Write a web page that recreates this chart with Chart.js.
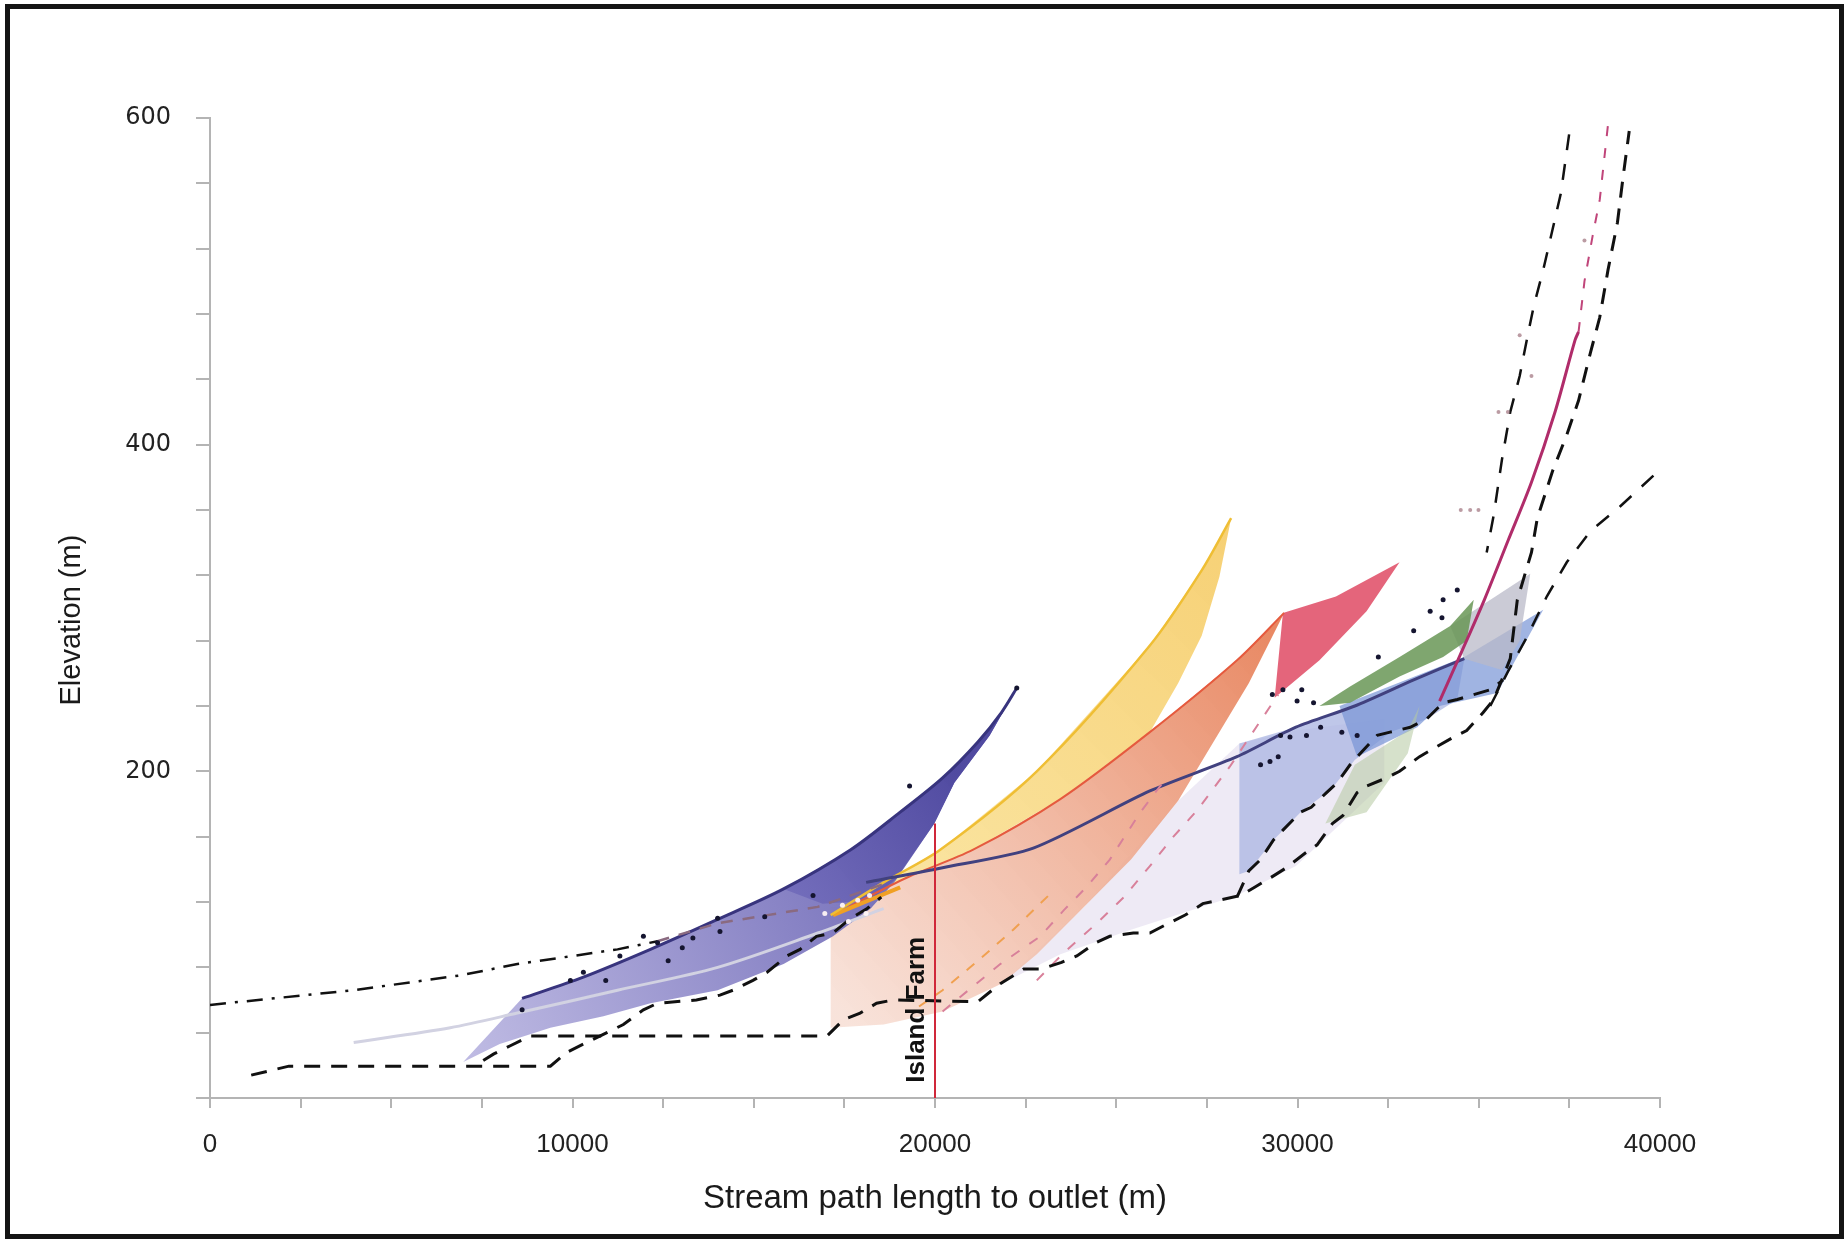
<!DOCTYPE html>
<html>
<head>
<meta charset="utf-8">
<script src="https://cdn.jsdelivr.net/npm/chart.js@4.4.1/dist/chart.umd.min.js"></script>
<style>
  html, body { margin: 0; padding: 0; background: #fff; }
  #wrap { position: relative; width: 1847px; height: 1239px; }
  #frame { position: absolute; left: 5px; top: 4px; width: 1839px; height: 1235px;
           border: 5px solid #141414; box-sizing: border-box; pointer-events: none; }
</style>
</head>
<body>
<div id="wrap">
  <canvas id="chart" width="1847" height="1239"></canvas>
  <div id="frame"></div>
</div>
<script>
// tick labels
var xLabelTicks = [0, 10000, 20000, 30000, 40000]
var yLabelTicks = [200, 400, 600]

// [stream path length (m), elevation (m)]
var dashDot     = [[0,57],[3964,66],[6888,75],[8480,82],[11242,91],[12346,96]]
var mauveDash   = [[12346,96],[14003,107],[16765,117],[18584,131]]
var grayCentre  = [[3964,34],[6628,43],[8480,52],[11242,66],[14003,80],[16765,101],[18584,116]]
var purpleTop   = [[8610,61],[10300,74],[12151,91],[13971,109],[15823,128],[17675,152],[19039,175],[20209,196],[21183,218],[21833,236],[22256,251]]
var purpleLow   = [[21508,222],[20534,193],[19981,168],[18909,133],[18227,116],[17187,99],[15823,82],[14003,66],[12151,58],[10852,50],[9390,43],[7993,33],[6985,22]]
var purpleWedge = [[15823,128],[17675,152],[19039,175],[20209,196],[21183,218],[21833,236],[22256,251],[21508,222],[20534,193],[19981,168],[18909,134],[18227,121],[16900,119]]
var orangeTop   = [[17610,117],[19234,135],[21053,152],[23458,183],[25927,224],[28331,268],[29631,297]]
var peachLow    = [[28656,254],[27681,218],[26707,182],[25407,146],[24108,117],[22808,88],[21833,70],[20209,53],[18584,45],[17122,43],[17122,117]]
var yellowTop   = [[17122,112],[18584,132],[20144,152],[22808,200],[25927,277],[27357,323],[28169,355]]
var yellowLow   = [[28169,355],[27844,319],[27357,283],[26707,254],[25927,224],[23458,183],[21053,152],[19234,135],[17610,117]]
var orangeStub  = [[17187,112],[19039,129]]
var navyLine    = [[18100,132],[20209,141],[22711,153],[25927,188],[28331,209],[29956,227],[31580,240],[33205,256],[34602,269]]
var faintArea   = [[21833,70],[23458,88],[25407,103],[28331,124],[29956,142],[32393,193],[32393,232],[29956,225],[28396,217],[26707,182],[24108,117]]
var blueLight   = [[28396,217],[29956,227],[31580,240],[33205,256],[34602,269],[34407,244],[33562,232],[32555,224],[31580,207],[30930,189],[30086,175],[29338,158],[28656,139],[28396,137]]
var blueRight   = [[31158,240],[34602,270],[36779,299],[35512,248],[33920,240],[33302,227],[31645,209]]
var grayArea    = [[34212,289],[36421,321],[36129,280],[35641,262],[34602,269]]
var greenBand   = [[30606,240],[31450,252],[32815,270],[34212,289],[34862,305],[34667,280],[34017,270],[32815,258],[31450,242]]
var paleGreen   = [[30768,168],[31580,204],[33043,225],[33367,240],[33043,211],[31905,175]]
var redTriangle = [[29371,245],[29598,297],[31060,307],[32815,328],[31905,298],[30606,268]]
var magentaLine = [[33920,243],[34504,272],[35154,305],[35804,341],[36454,377],[37104,420],[37656,464],[37753,469]]
var magentaDash = [[37753,469],[37916,500],[38143,528],[38338,550],[38566,596]]
var orangeDash  = [[19559,56],[20209,66],[21183,84],[22158,103],[23133,124]]
var pinkDashA   = [[20209,53],[21801,82],[22905,99],[23555,115],[24173,129],[24822,146],[25667,175],[26382,196]]
var pinkDashB   = [[22808,72],[23555,89],[24465,107],[25212,123],[25927,142],[26577,160],[27227,176],[28136,203],[28981,231],[29468,247]]
var lowDash     = [[1137,14],[2177,19.5],[9390,19.5],[9845,28],[10300,33],[10949,40],[11404,45],[11956,54],[12346,58],[13418,60],[14068,63],[14426,66],[14978,72],[15368,77],[15920,87],[16277,91],[16732,99],[17187,101],[17675,110],[18129,116],[18519,123]]
var mainDash    = [[7538,23],[7830,27],[8285,32],[8837,38],[17025,38],[17480,48],[17934,52],[18389,58],[18844,60],[21183,59],[21801,70],[22451,79],[22938,79],[23490,83],[23913,87],[24432,95],[24822,99],[25472,101],[25927,101],[26447,107],[26902,112],[27389,119],[27811,121],[28429,124],[28818,129],[29338,136],[29695,141],[30216,150],[30541,155],[30963,168],[31255,173],[31645,187],[31905,191],[32458,196],[32815,200],[33367,209],[33757,214],[34309,221],[34667,225],[35122,236],[35414,244],[35674,258],[35869,269],[36064,305],[36454,334],[36616,355],[37039,384],[37428,406],[37753,427],[38078,456],[38338,478],[38566,507],[38826,536],[38988,565],[39151,592]]
var sideDash    = [[28331,123],[28656,139],[28981,146],[29338,158],[29598,164],[30086,175],[30378,178],[30801,187],[31093,193],[31450,204],[31775,212],[32198,222],[32555,224],[33108,227],[33562,232],[34017,242],[34407,244],[35024,248],[35317,250],[35674,256]]
var innerDash   = [[37493,590],[37266,554],[37039,532],[36779,507],[36519,485],[36324,464],[36129,442],[35869,420],[35641,391],[35414,357],[35219,334]]
var outerDash   = [[35317,240],[35804,261],[36324,282],[36876,307],[37428,328],[38078,347],[38891,362],[39866,382]]
var islandFarm  = [[20000,0],[20000,168]]
var blackDots   = [[8610,54],[9942,72],[10300,77],[10917,72],[11307,87],[11956,99],[12346,95],[12639,84],[13029,92],[13321,98],[14003,110],[14068,102],[15303,111],[16635,124],[19299,191],[22256,251],
                   [28981,204],[29241,206],[29468,209],[29533,222],[29793,221],[30248,222],[30638,227],[31223,224],[31645,222],[29306,247],[29598,250],[30118,250],[29988,243],[30443,242],[32230,270],[33205,286],[33660,298],[33985,294],[34017,305],[34407,311]]
var whiteDots   = [[16960,113],[17447,118],[17869,121],[18194,124],[18097,113],[17610,108]]
var paleDots    = [[35544,420],[35804,420],[36129,467],[37916,525],[34504,360],[34764,360],[34992,360],[36454,442]]

function pts(a){ return a.map(function(p){ return { x: p[0], y: p[1] } }) }

function area(data, color, order){
  return { data: pts(data), showLine: true, fill: 'shape', backgroundColor: color,
           borderColor: 'rgba(0,0,0,0)', borderWidth: 0, pointRadius: 0, order: order }
}
function line(data, color, width, dash, order, tension){
  return { data: pts(data), showLine: true, fill: false, borderColor: color, borderWidth: width,
           borderDash: dash || [], borderCapStyle: 'butt', pointRadius: 0, order: order, tension: tension || 0 }
}
function dots(data, color, r, order){
  return { data: pts(data), showLine: false, pointRadius: r, pointBackgroundColor: color,
           pointBorderWidth: 0, order: order }
}

// gradient between two data points, falls back to a flat colour before layout
function grad(p0, p1, c0, c1, fallback){
  return function(ctx){
    var ch = ctx.chart, sx = ch.scales.x, sy = ch.scales.y
    if (!ch.chartArea || !sx || !sy) return fallback
    var g = ch.ctx.createLinearGradient(sx.getPixelForValue(p0[0]), sy.getPixelForValue(p0[1]),
                                        sx.getPixelForValue(p1[0]), sy.getPixelForValue(p1[1]))
    g.addColorStop(0, c0)
    g.addColorStop(1, c1)
    return g
  }
}

var yellowArea = yellowTop.concat(yellowLow)
var peachArea  = orangeTop.concat(peachLow)
var purpleArea = purpleTop.concat(purpleLow)

// vertical "Island Farm" label next to the red line
var farmLabel = {
  id: 'farmLabel',
  afterDatasetsDraw: function(chart){
    var ctx = chart.ctx, sx = chart.scales.x, sy = chart.scales.y
    ctx.save()
    ctx.translate(sx.getPixelForValue(20000) - 5, sy.getPixelForValue(54))
    ctx.rotate(-Math.PI / 2)
    ctx.font = 'bold 26px "Liberation Sans", Arial, sans-serif'
    ctx.fillStyle = '#111'
    ctx.textAlign = 'center'
    ctx.textBaseline = 'bottom'
    ctx.fillText('Island Farm', 0, 0)
    ctx.restore()
  }
}

new Chart(document.getElementById('chart'), {
  type: 'scatter',
  data: {
    datasets: [
      area(faintArea, 'rgba(226,220,238,0.6)', 40),
      area(peachArea, grad([17500,50],[29600,290],'rgba(247,222,212,0.85)','rgba(231,128,88,0.95)','#f0b090'), 38),
      area(yellowArea, grad([17500,115],[28000,350],'rgba(250,228,156,0.9)','rgba(246,206,110,0.95)','#f8d88a'), 37),
      area(purpleArea, grad([7000,40],[20500,180],'rgba(186,182,225,0.95)','rgba(98,92,176,0.95)','#9c98d4'), 36),
      area(purpleWedge, grad([16000,120],[20500,200],'rgba(112,106,186,0.85)','rgba(80,74,160,0.97)','#554fa3'), 35),
      area(blueLight, 'rgba(170,180,225,0.75)', 34),
      area(blueRight, 'rgba(120,148,214,0.7)', 33),
      area(grayArea, 'rgba(185,186,200,0.75)', 32),
      area(paleGreen, 'rgba(180,200,160,0.55)', 31),
      area(greenBand, 'rgba(104,150,86,0.85)', 30),
      area(redTriangle, 'rgba(226,88,112,0.92)', 29),

      line(grayCentre, '#d2d2e2', 3, [], 20, 0.3),
      line(orangeTop, '#e55a3e', 2, [], 18, 0.3),
      line(yellowTop, '#efbe34', 2.5, [], 17, 0.3),
      line(orangeStub, '#f0a024', 4, [], 17),
      line(purpleTop, '#38347e', 3, [], 16, 0.3),
      line(navyLine, '#41417f', 3, [], 15, 0.25),
      line(magentaLine, '#b02c6a', 3, [], 14, 0.3),
      line(magentaDash, '#c0457a', 2, [10, 12], 14),
      line(orangeDash, '#f0a050', 2, [10, 10], 13),
      line(pinkDashA, '#d8809a', 2, [10, 12], 13),
      line(pinkDashB, '#d8809a', 2, [10, 12], 13),
      line(mauveDash, '#8a6a80', 2.5, [12, 10], 12),
      line(dashDot, '#111', 2.5, [16, 9, 3, 9], 11),
      line(lowDash, '#111', 3, [16, 11], 10),
      line(mainDash, '#111', 3, [16, 11], 10),
      line(sideDash, '#111', 3, [16, 11], 10),
      line(innerDash, '#111', 2.5, [16, 14], 10),
      line(outerDash, '#111', 2.5, [16, 14], 10),
      line(islandFarm, '#d0283a', 2, [], 9),

      dots(paleDots, 'rgba(170,130,140,0.8)', 2, 3),
      dots(whiteDots, 'rgba(255,245,245,0.95)', 2.5, 2),
      dots(blackDots, '#151530', 2.5, 1)
    ]
  },
  options: {
    responsive: false,
    animation: false,
    devicePixelRatio: 1,
    layout: { padding: { left: 0, top: 118, right: 187, bottom: 0 } },
    plugins: { legend: { display: false }, tooltip: { enabled: false } },
    scales: {
      x: {
        type: 'linear', min: 0, max: 40000,
        afterFit: function(s){ s.height = 141 },
        border: { display: true, color: '#b4b4b4', width: 2 },
        grid: { display: true, drawOnChartArea: false, drawTicks: true, tickLength: 10, color: '#b4b4b4', lineWidth: 2 },
        ticks: {
          stepSize: 2500, autoSkip: false, maxRotation: 0, padding: 21,
          color: '#222', font: { family: '"Liberation Sans", Arial, sans-serif', size: 26 },
          callback: function(v){ return xLabelTicks.indexOf(v) >= 0 ? String(v) : '' }
        },
        title: {
          display: true, text: 'Stream path length to outlet (m)', color: '#1a1a1a',
          font: { family: '"Liberation Sans", Arial, sans-serif', size: 33 },
          padding: { top: 0, bottom: 20 }
        }
      },
      y: {
        type: 'linear', min: 0, max: 600,
        afterFit: function(s){ s.width = 210 },
        border: { display: true, color: '#b4b4b4', width: 2 },
        grid: { display: true, drawOnChartArea: false, drawTicks: true, tickLength: 14, color: '#b4b4b4', lineWidth: 2 },
        ticks: {
          stepSize: 40, autoSkip: false, padding: 25,
          color: '#222', font: { family: '"DejaVu Sans", Verdana, sans-serif', size: 24 },
          callback: function(v){ return yLabelTicks.indexOf(v) >= 0 ? String(v) : '' }
        },
        title: {
          display: true, text: 'Elevation (m)   ', color: '#1a1a1a',
          font: { family: '"Liberation Sans", Arial, sans-serif', size: 29 },
          padding: { top: 55, bottom: 0 }
        }
      }
    }
  },
  plugins: [farmLabel]
})
</script>
</body>
</html>
